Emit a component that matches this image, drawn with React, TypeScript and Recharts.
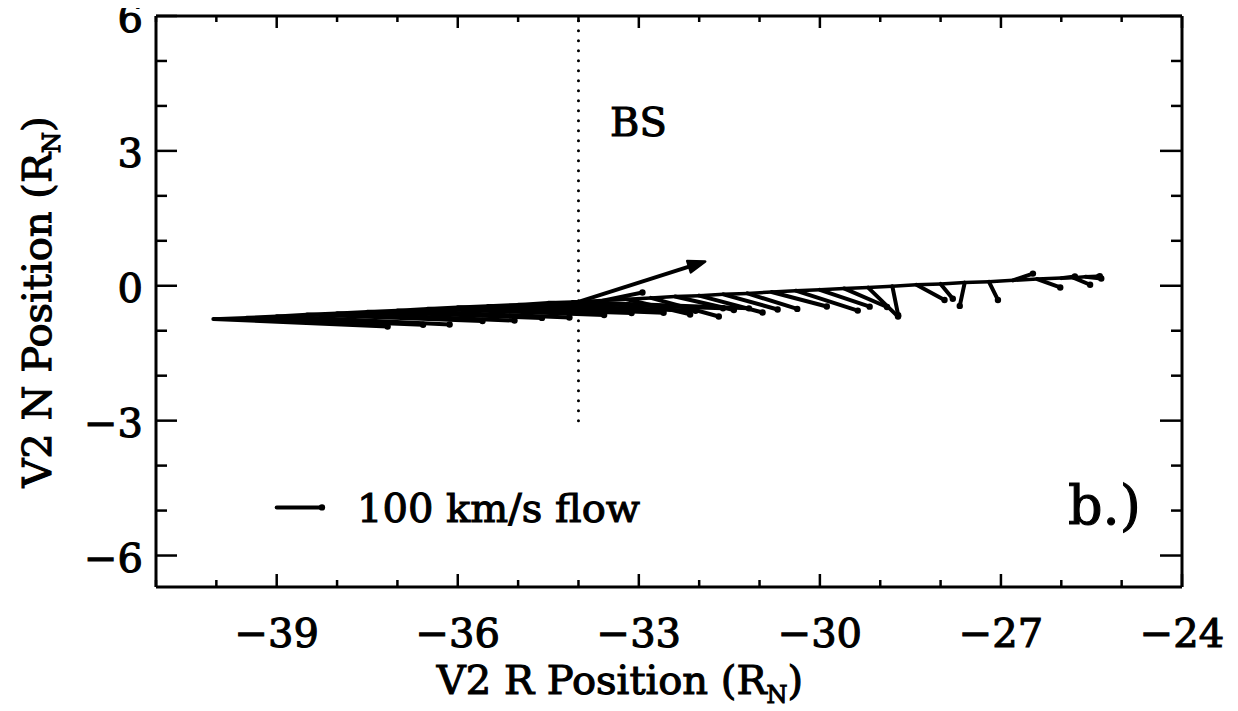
import { ComposedChart, Line, XAxis, YAxis, ReferenceLine } from 'recharts'

const X_TICKS = [-41, -40, -39, -38, -37, -36, -35, -34, -33, -32, -31, -30, -29, -28, -27, -26, -25, -24]
const Y_TICKS = [-6, -5, -4, -3, -2, -1, 0, 1, 2, 3, 4, 5, 6]

// V2 track (R_N) and plasma flow at each sample (km/s)
const trackR = [
  -40.05, -39.5, -39.0, -38.5, -38.0, -37.5, -37.0, -36.5, -36.0, -35.5, -35.0, -34.5, -34.1,
  -33.6, -33.2, -32.8, -32.4, -32.0, -31.6, -31.2, -30.8, -30.4, -30.0, -29.6, -29.2, -28.8,
  -28.4, -28.0, -27.6, -27.2, -26.8, -26.4, -26.0, -25.8, -25.6, -25.4,
]
const trackN = [
  -0.74, -0.71, -0.68, -0.64, -0.61, -0.58, -0.55, -0.51, -0.48, -0.45, -0.42, -0.38, -0.36,
  -0.33, -0.30, -0.27, -0.24, -0.22, -0.19, -0.17, -0.14, -0.11, -0.09, -0.06, -0.04, -0.01,
  0.02, 0.04, 0.07, 0.09, 0.12, 0.15, 0.17, 0.18, 0.20, 0.21,
]
const flowR = [
  385, 390, 382, 388, 392, 386, 380, 390, 384, 388, 392, 386, 390,
  88, 140, 150, 130, 140, 120, 110, 122, 137, 110, 95, 66, 13,
  62, 27, -11, 20, 44, 51, 30, 37, 35, 5,
]
const flowN = [
  -22, -21, -24, -19, -22, -18, -21, -19, -17, -20, -18, -16, -19,
  24, -45, -55, -40, -50, -45, -46, -43, -59, -50, -55, -86, -86,
  -45, -44, -69, -54, 20, -25, 5, -21, -5, 0,
]

const BOW_SHOCK_R = -34
const BOW_SHOCK_N = [-3, 6]
// the single large arrow drawn at the shock crossing
const arrowStart = [-34.0, -0.36]
const arrowEnd = [-31.9, 0.54]
// legend: 100 km/s reference vector
const LEGEND_SPEED = 100
const legendAt = [-39.0, -4.93]

const RN_PER_KMS = 0.75 / 100

const track = trackR.map((r, i) => ({ r, n: trackN[i] }))

const FONT = '"DejaVu Serif", serif'
const AX = { stroke: '#000', strokeWidth: 3 }

const fmt = (v: number) => (v < 0 ? '\u2212' + Math.abs(v) : String(v))

const Vec = (p: any) => (
  <g>
    <line x1={p.x1} y1={p.y1} x2={p.x2} y2={p.y2} stroke="#000" strokeWidth={4} strokeLinecap="round" />
    <circle cx={p.x2} cy={p.y2} r={3.2} fill="#000" />
  </g>
)

const Arrow = (p: any) => {
  const a = Math.atan2(p.y2 - p.y1, p.x2 - p.x1)
  const L = 17, W = 6
  const bx = p.x2 - L * Math.cos(a), by = p.y2 - L * Math.sin(a)
  const pts = [
    [p.x2, p.y2],
    [bx + W * Math.sin(a), by - W * Math.cos(a)],
    [bx - W * Math.sin(a), by + W * Math.cos(a)],
  ].map(q => q.join(',')).join(' ')
  return (
    <g>
      <line x1={p.x1} y1={p.y1} x2={bx} y2={by} stroke="#000" strokeWidth={4} />
      <polygon points={pts} fill="#000" stroke="#000" strokeWidth={2.5} strokeLinejoin="round" />
    </g>
  )
}

const BottomTick = ({ x, y, payload }: any) => {
  const major = payload.value % 3 === 0
  return (
    <g>
      <line x1={x} x2={x} y1={y} y2={y - (major ? 13 : 7)} stroke="#000" strokeWidth={2.5} />
      {major && (
        <text x={x} y={y + 60} textAnchor="middle" fontFamily={FONT} fontSize={40} stroke="#000" strokeWidth={1.1} fill="#000">
          {fmt(payload.value)}
        </text>
      )}
    </g>
  )
}

const TopTick = ({ x, y, payload }: any) => {
  const major = payload.value % 3 === 0
  return <line x1={x} x2={x} y1={y} y2={y + (major ? 12 : 6)} stroke="#000" strokeWidth={2.5} />
}

const LeftTick = ({ x, y, payload }: any) => {
  const major = payload.value % 3 === 0
  return (
    <g>
      <line x1={x} x2={x + (major ? 21 : 11)} y1={y} y2={y} stroke="#000" strokeWidth={2.5} />
      {major && (
        <text x={x - 13} y={y + 16} textAnchor="end" fontFamily={FONT} fontSize={40} stroke="#000" strokeWidth={1.1} fill="#000">
          {fmt(payload.value)}
        </text>
      )}
    </g>
  )
}

const RightTick = ({ x, y, payload }: any) => {
  const major = payload.value % 3 === 0
  return <line x1={x} x2={x - (major ? 22 : 11)} y1={y} y2={y} stroke="#000" strokeWidth={2.5} />
}

const txt: React.CSSProperties = {
  position: 'absolute',
  fontFamily: FONT,
  fontSize: 40,
  lineHeight: 1,
  whiteSpace: 'nowrap',
  color: '#000',
  WebkitTextStroke: '1.1px #000',
}

export default function App() {
  return (
    <div style={{ position: 'relative', top: -8, width: 1230, height: 711, background: '#fff' }}>
      <style>{'html, body { overflow: hidden; }'}</style>
      <ComposedChart width={1230} height={711} data={track} margin={{ top: 0, right: 0, bottom: 0, left: 0 }}>
        <XAxis xAxisId={0} type="number" dataKey="r" domain={[-41, -24]} ticks={X_TICKS} interval={0}
          tickSize={0} tickMargin={0} height={124} axisLine={AX} tick={<BottomTick />} allowDataOverflow />
        <XAxis xAxisId="top" orientation="top" type="number" dataKey="r" domain={[-41, -24]} ticks={X_TICKS} interval={0}
          tickSize={0} tickMargin={0} height={16} axisLine={AX} tick={<TopTick />} allowDataOverflow />
        <YAxis yAxisId={0} type="number" domain={[-6.7, 6]} ticks={Y_TICKS} interval={0}
          tickSize={0} tickMargin={0} width={148} axisLine={AX} tick={<LeftTick />} allowDataOverflow />
        <YAxis yAxisId="right" orientation="right" type="number" domain={[-6.7, 6]} ticks={Y_TICKS} interval={0}
          tickSize={0} tickMargin={0} width={56} axisLine={AX} tick={<RightTick />} allowDataOverflow />

        <ReferenceLine
          segment={[{ x: BOW_SHOCK_R, y: BOW_SHOCK_N[0] }, { x: BOW_SHOCK_R, y: BOW_SHOCK_N[1] }]}
          stroke="#000" strokeWidth={3} strokeDasharray="0 10" strokeLinecap="round"
        />

        <Line data={track} dataKey="n" stroke="#000" strokeWidth={3.5} dot={false} isAnimationActive={false} />

        {trackR.map((r, i) => (
          <ReferenceLine
            key={i}
            segment={[
              { x: r, y: trackN[i] },
              { x: r + flowR[i] * RN_PER_KMS, y: trackN[i] + flowN[i] * RN_PER_KMS },
            ]}
            shape={Vec}
            ifOverflow="visible"
          />
        ))}

        <ReferenceLine
          segment={[{ x: arrowStart[0], y: arrowStart[1] }, { x: arrowEnd[0], y: arrowEnd[1] }]}
          shape={Arrow}
          ifOverflow="visible"
        />

        <ReferenceLine
          segment={[
            { x: legendAt[0], y: legendAt[1] },
            { x: legendAt[0] + LEGEND_SPEED * RN_PER_KMS, y: legendAt[1] },
          ]}
          shape={Vec}
          ifOverflow="visible"
        />
      </ComposedChart>

      <div style={{ ...txt, left: 602, top: 122, transform: 'translateY(-50%)' }}>BS</div>
      <div style={{ ...txt, left: 349, top: 508, transform: 'translateY(-50%)' }}>100 km/s flow</div>
      <div style={{ ...txt, left: 1060, top: 506, fontSize: 54, transform: 'translateY(-50%)' }}>b.)</div>
      <div style={{ ...txt, left: 612, top: 683, transform: 'translate(-50%, -50%)' }}>
        V2 R Position (R<sub style={{ fontSize: '0.6em' }}>N</sub>)
      </div>
      <div style={{ ...txt, left: 32, top: 302, transform: 'translate(-50%, -50%) rotate(-90deg)' }}>
        V2 N Position (R<sub style={{ fontSize: '0.6em' }}>N</sub>)
      </div>
    </div>
  )
}
